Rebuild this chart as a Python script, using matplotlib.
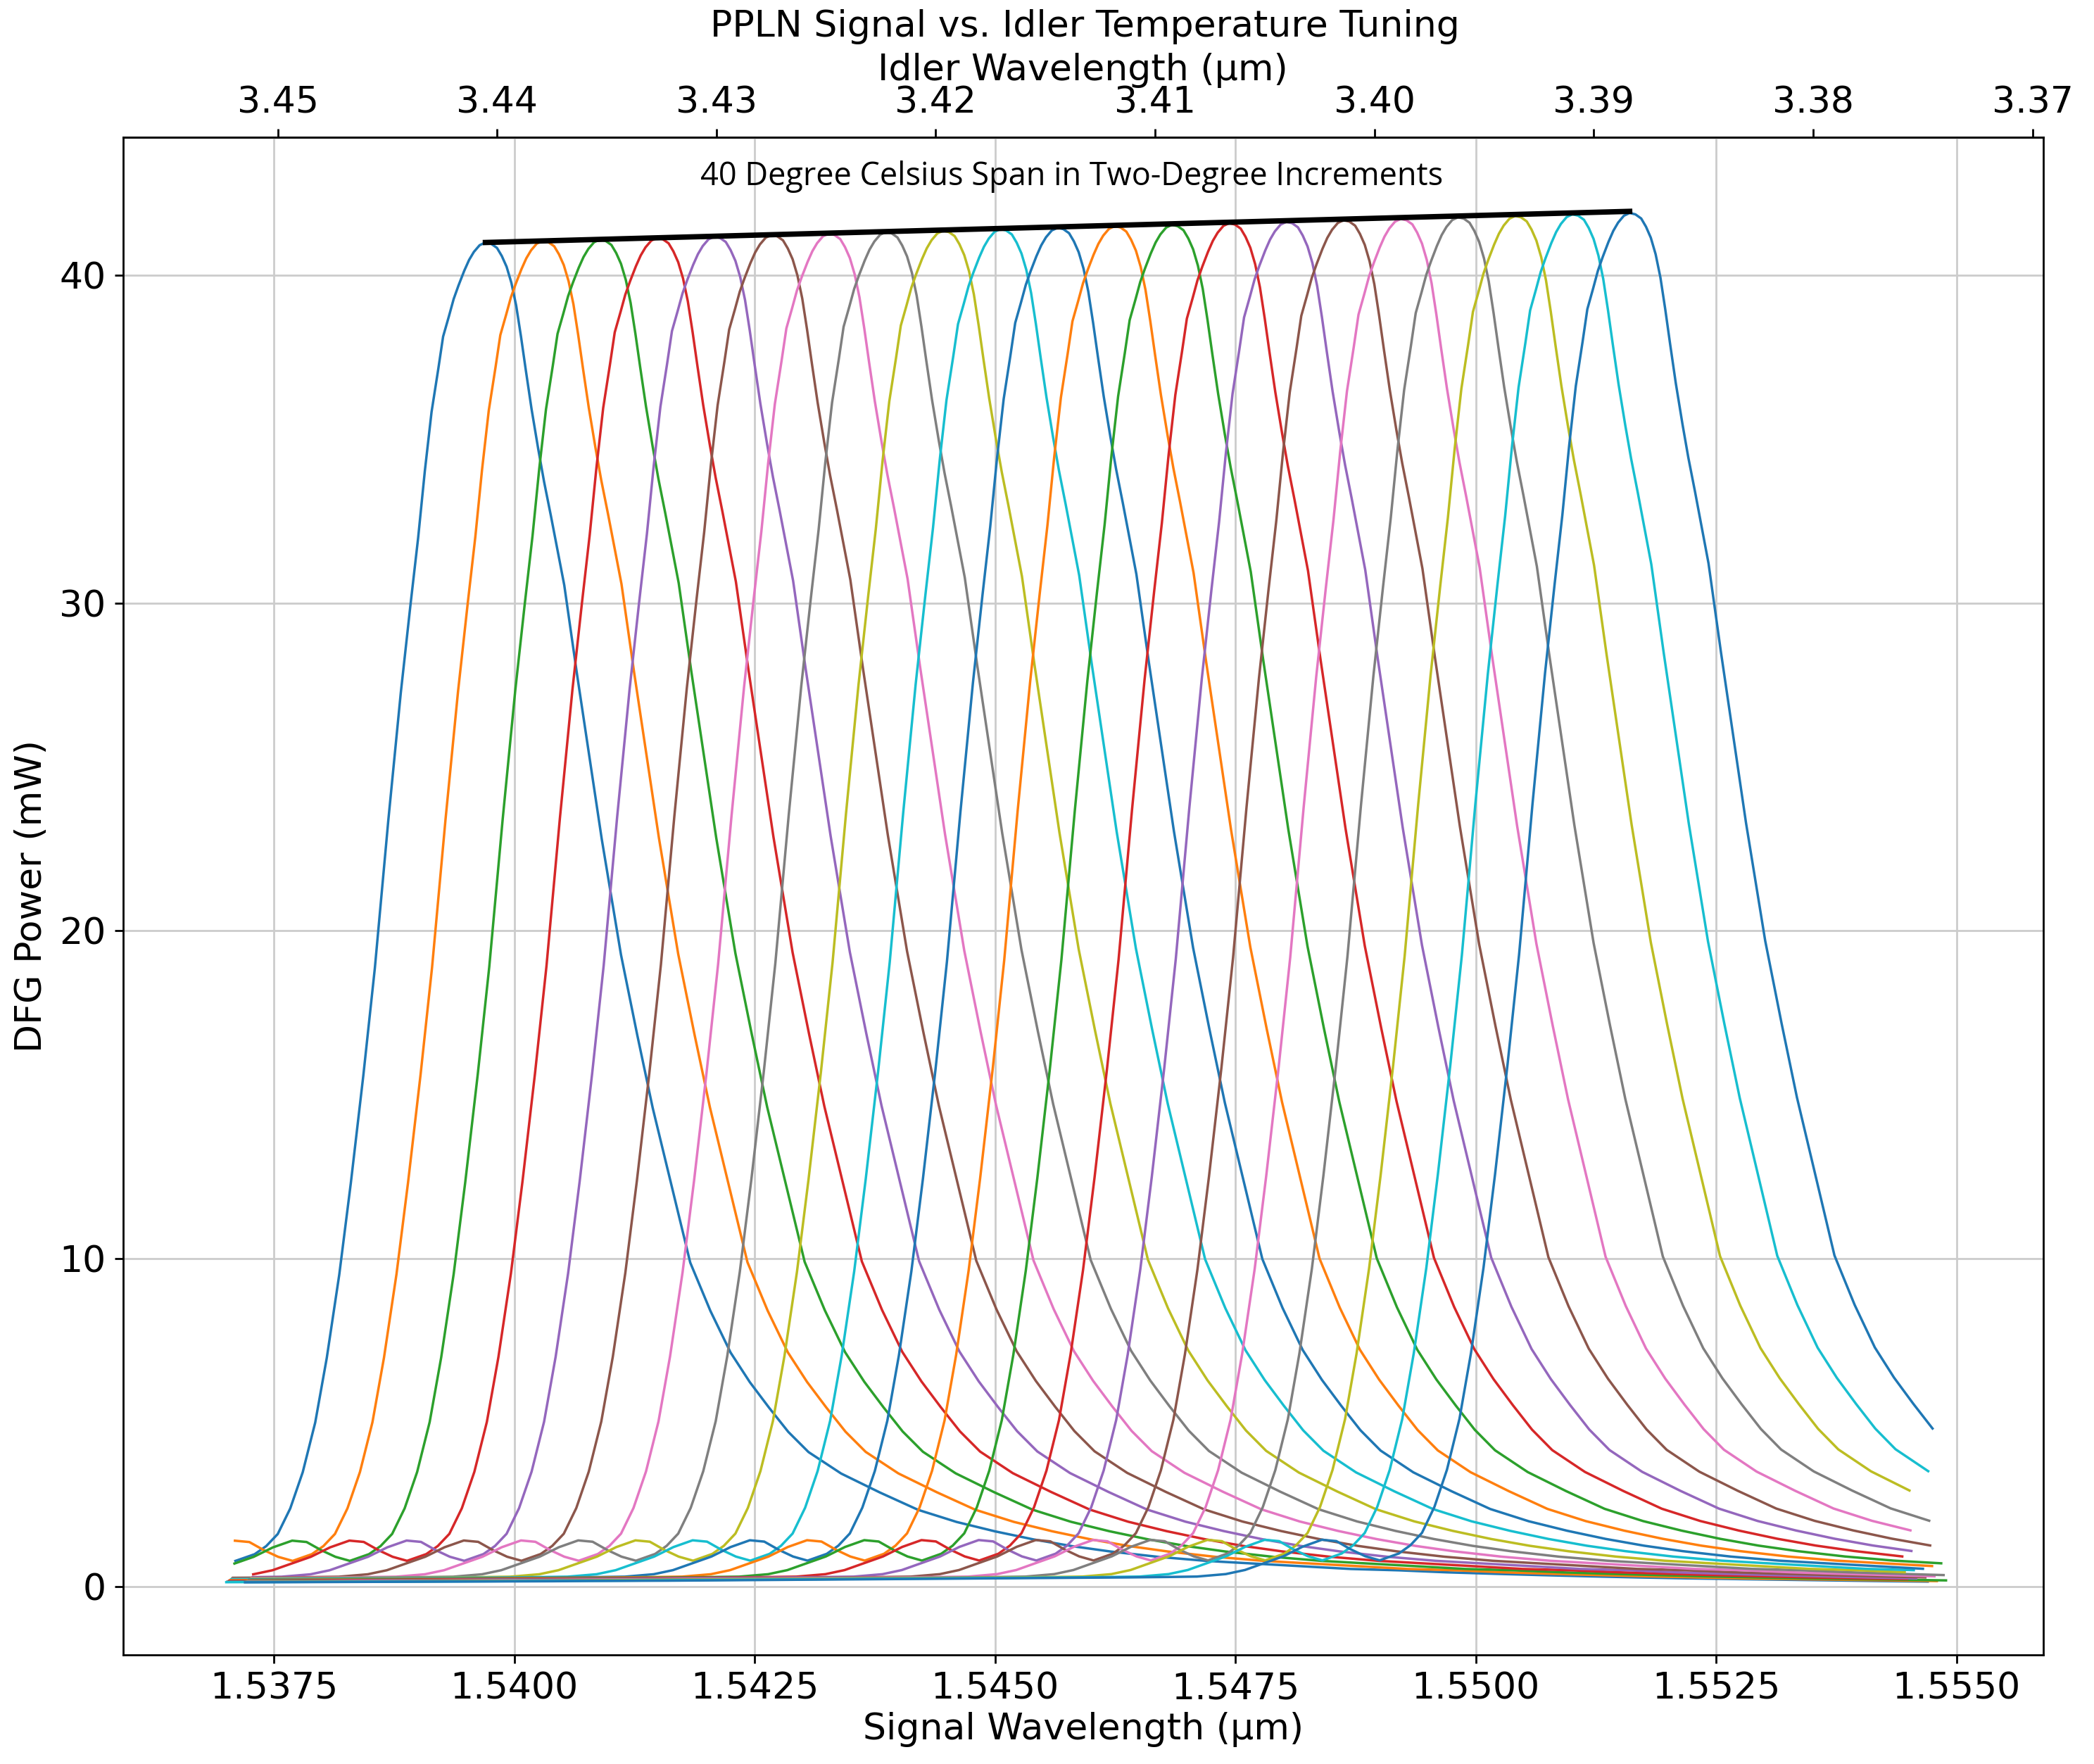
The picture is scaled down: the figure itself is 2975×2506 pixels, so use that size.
import numpy as np
import matplotlib
matplotlib.use("Agg")
from matplotlib import pyplot as plt

# peak signal wavelengths (um), one curve per 2 degC step
peaks = [1.53970, 1.540295, 1.54089, 1.541485, 1.54208, 1.542675, 1.54327,
         1.543865, 1.54446, 1.545055, 1.54565, 1.546245, 1.54684, 1.547435,
         1.54803, 1.548625, 1.54922, 1.549815, 1.55041, 1.551005, 1.55160]
heights = [41.00, 41.05, 41.09, 41.14, 41.18, 41.23, 41.27, 41.32, 41.36, 41.41,
           41.45, 41.50, 41.54, 41.59, 41.63, 41.68, 41.72, 41.77, 41.81, 41.86, 41.90]

# phase-matching profile: offset (1e-4 um), fraction of peak
prof_off = [-180, -176, -172, -168, -164, -160, -156, -152, -148, -144, -140, -136,
            -132, -128, -124, -120, -116, -112, -108, -104, -100, -96, -92, -88,
            -84, -80, -76, -72, -68, -64, -60, -56, -52, -48, -45, -42, -40, -38,
            -36, -34, -32, -30.5, -29, -27.5, -26, -24, -22.8, -21.6, -20.3, -19,
            -17.7, -16.5, -15.2, -14, -12.7, -11.5, -10.1, -8.8, -7.8, -7, -6.3,
            -5.6, -4.9, -4.4, -3.8, -3.3, -2.8, -2.2, -1.7, -1.2, -0.6, 0,
            0.6, 1.2, 1.7, 2.2, 2.7, 3.2, 3.7, 4.2, 4.8, 5.5, 6.1, 6.8, 8.2, 9.5,
            10.8, 12.1, 14.1, 15.8, 17.4,
            19.3, 21.3, 23.4, 25.5, 27.5, 29.5, 31.5, 33.6, 37, 41, 45, 49, 53, 57,
            61, 65, 70, 75, 80, 85, 90, 95, 100, 105, 110, 115, 120, 125, 130, 135,
            140, 145, 150, 155, 160, 165, 170, 175, 180]
prof_val = [0.0024, 0.0024, 0.0025, 0.0026, 0.0026, 0.0027, 0.0028, 0.0029, 0.003,
            0.003, 0.0031, 0.0032, 0.0033, 0.0034, 0.0035, 0.0036, 0.0037, 0.0038,
            0.004, 0.0041, 0.0042, 0.0044, 0.0046, 0.0048, 0.005, 0.0052, 0.0054,
            0.0056, 0.0058, 0.006, 0.0062, 0.0064, 0.0066, 0.0069, 0.0072, 0.009,
            0.012, 0.017, 0.022, 0.029, 0.034, 0.033, 0.027, 0.022, 0.019, 0.024,
            0.03, 0.039, 0.058, 0.085, 0.122, 0.17, 0.232, 0.30, 0.38, 0.46, 0.57,
            0.665, 0.73, 0.78, 0.83, 0.874, 0.906, 0.93, 0.945, 0.958, 0.968,
            0.979, 0.987, 0.993, 0.998, 1.0,
            0.999, 0.996, 0.99, 0.982, 0.97, 0.953, 0.93, 0.905, 0.876, 0.846,
            0.822, 0.797, 0.745, 0.68, 0.618, 0.556,
            0.47, 0.41, 0.356, 0.30, 0.241, 0.205, 0.174, 0.152, 0.133, 0.115,
            0.100, 0.084, 0.070, 0.057, 0.048, 0.041, 0.035, 0.030, 0.026, 0.022,
            0.019, 0.017, 0.015, 0.013, 0.012, 0.0105, 0.0094, 0.0084, 0.0075,
            0.0067, 0.006, 0.0055, 0.005, 0.0045, 0.004, 0.0036, 0.003, 0.0026,
            0.0022, 0.0019, 0.0017, 0.0015]

idler_ticks = [3.45, 3.44, 3.43, 3.42, 3.41, 3.40, 3.39, 3.38, 3.37]

x_min, x_max = 1.5370, 1.5549

fig = plt.figure(figsize=(11.9, 10.024), dpi=250)
ax = fig.add_axes([0.0587, 0.062, 0.917, 0.86])

off = np.array(prof_off) * 1e-4
val = np.array(prof_val)
for p, h in zip(peaks, heights):
    xs = p + off
    keep = (xs >= x_min) & (xs <= x_max)
    ax.plot(xs[keep], h * val[keep], lw=1.0)

ax.plot([peaks[0], peaks[-1]], [heights[0], heights[-1] + 0.05], color="black", lw=2.2)
ax.text(1.5458, 43.0, "40 Degree Celsius Span in Two-Degree Increments",
        ha="center", va="center", fontsize=13, family="Open Sans")

ax.set_xlim(1.53593, 1.5559)
ax.set_ylim(-2.08, 44.2)
ax.set_xticks([1.5375, 1.5400, 1.5425, 1.5450, 1.5475, 1.5500, 1.5525, 1.5550])
ax.set_xticklabels(["1.5375", "1.5400", "1.5425", "1.5450", "1.5475", "1.5500", "1.5525", "1.5550"])
ax.set_yticks([0, 10, 20, 30, 40])
ax.tick_params(labelsize=15)
ax.grid(True, color="#cccccc")
ax.set_xlabel("Signal Wavelength (\u00b5m)", fontsize=15, labelpad=2)
ax.set_ylabel("DFG Power (mW)", fontsize=15)

# top scale as drawn: 3.45 sits at 1.53754, 3.37 at 1.55579
k = 0.08 / 0.01825


def s2i(s):
    return 3.45 - (s - 1.53754) * k


def i2s(i):
    return 1.53754 + (3.45 - i) / k


top = ax.secondary_xaxis("top", functions=(s2i, i2s))
top.set_xticks(idler_ticks)
top.set_xticklabels(["%.2f" % t for t in idler_ticks])
top.tick_params(labelsize=15)
top.set_xlabel("Idler Wavelength (\u00b5m)", fontsize=15, labelpad=2)
fig.text(0.518, 0.985, "PPLN Signal vs. Idler Temperature Tuning", ha="center",
         va="center", fontsize=15)

fig.savefig("out.png", dpi=250)
